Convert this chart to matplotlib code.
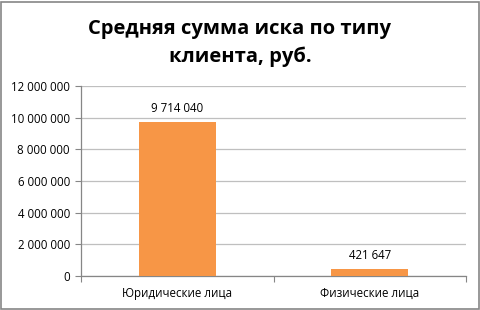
import matplotlib
matplotlib.use("Agg")
import matplotlib.pyplot as plt
from matplotlib.patches import Rectangle
from matplotlib.ticker import FuncFormatter

categories = ["Юридические лица", "Физические лица"]
values = [9714040, 421647]
yticks = [0, 2000000, 4000000, 6000000, 8000000, 10000000, 12000000]
title = "Средняя сумма иска по типу\nклиента, руб."

def fmt(v, pos=None):
    return f"{int(v):,}".replace(",", " ")

plt.rcParams['font.family'] = ['Open Sans', 'DejaVu Sans']

fig = plt.figure(figsize=(4.81, 3.10), dpi=100)
ax = fig.add_axes([81/481, 1-276/310, (466-81)/481, (276-86)/310])

x = list(range(len(categories)))
bars = ax.bar(x, values, width=0.4, color="#F79646", zorder=3)
ax.set_xlim(-0.5, len(categories)-0.5)
ax.set_ylim(0, 12000000)
ax.set_yticks(yticks)
ax.yaxis.set_major_formatter(FuncFormatter(fmt))
ax.grid(axis='y', color="#BFBFBF", linewidth=0.9, zorder=0)

for s in ['top', 'right']:
    ax.spines[s].set_visible(False)
for s in ['left', 'bottom']:
    ax.spines[s].set_color("#868686")
    ax.spines[s].set_linewidth(0.9)

ax.set_xticks([-0.5, 0.5, 1.5])
ax.set_xticklabels([])
ax.set_xticks(x, minor=True)
ax.set_xticklabels(categories, minor=True, fontsize=8.3)
ax.tick_params(axis='x', which='minor', length=0, pad=8)
ax.tick_params(axis='x', which='major', length=4, color="#868686")
ax.tick_params(axis='y', length=4, color="#868686", labelsize=8.3, pad=4)

for xi, v in zip(x, values):
    ax.annotate(fmt(v), (xi, v), xytext=(0, 5), textcoords='offset points',
                ha='center', va='bottom', fontsize=8.3)

fig.text(240/481, 1-43/310, title, ha='center', va='center', fontsize=14.5,
         fontweight='bold', linespacing=1.45)

fig.patches.append(Rectangle((0.002, 0.003), 0.994, 0.992, transform=fig.transFigure,
                             fill=False, edgecolor="#868686", linewidth=1.2))

fig.savefig("out.png", dpi=100)
